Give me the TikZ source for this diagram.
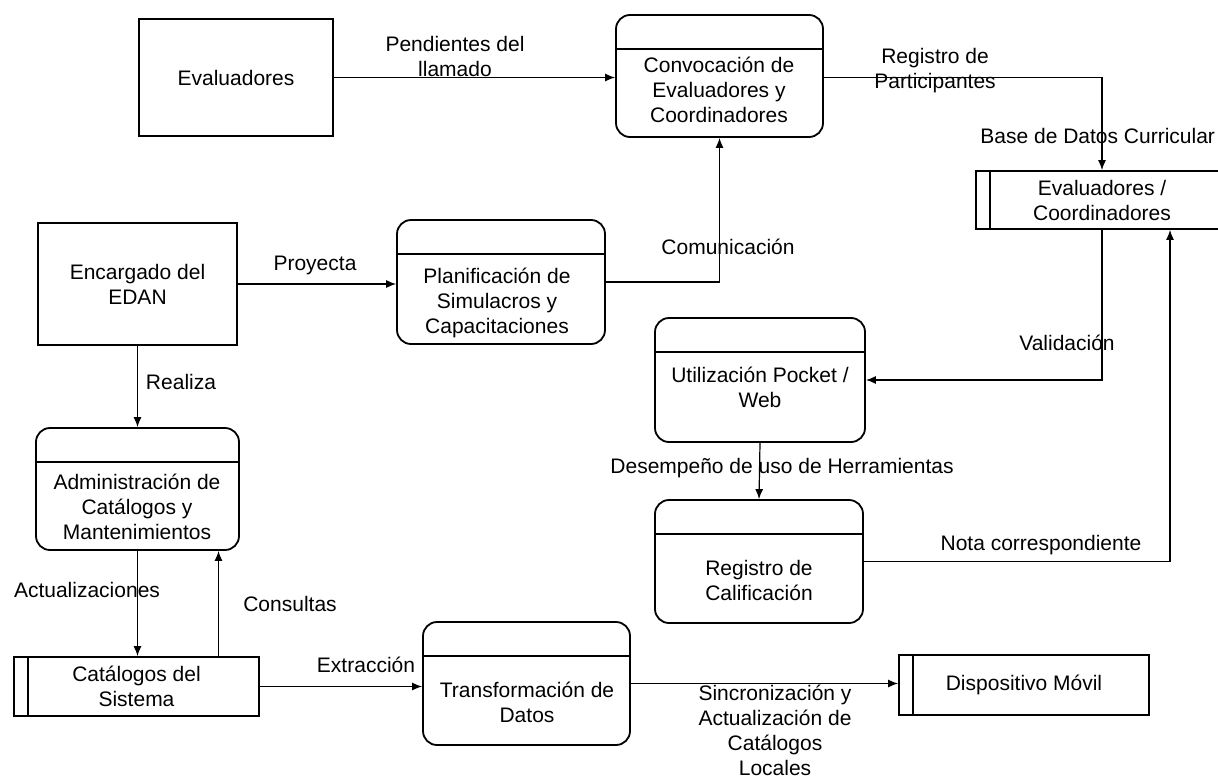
\documentclass[tikz,border=0pt]{standalone}
\usepackage{fontspec}
\setmainfont{Liberation Sans}
\usetikzlibrary{arrows.meta}

\tikzset{
  every node/.style={font=\fontsize{10.5}{12.5}\selectfont},
  entity/.style={draw,line width=0.9pt,align=center},
  proc/.style={draw,line width=0.9pt,rounded corners=7pt,
    minimum width=104pt,minimum height=61.5pt},
  store/.style={draw,line width=0.9pt,minimum height=29.5pt,align=center},
  ptext/.style={align=center,inner sep=0pt},
  lbl/.style={align=center,inner sep=0pt},
  flow/.style={line width=0.6pt,-{Latex[length=5pt,width=4pt]}},
}

\begin{document}
\begin{tikzpicture}[x=0.5pt,y=-0.5pt]
  \useasboundingbox (0,0) rectangle (1218,781);

  % entidades externas
  \node[entity,minimum width=97pt,minimum height=58.5pt] (evaluadores) at (236,77.5) {Evaluadores};
  \node[entity,minimum width=99.5pt,minimum height=61pt] (encargado) at (137.5,284) {Encargado del\\EDAN};

  % procesos
  \node[proc,minimum width=103.5pt,minimum height=61pt] (convoca) at (719.5,76) {};
  \node[proc,minimum height=62pt] (planif) at (501,282) {};
  \node[proc,minimum width=105pt,minimum height=62pt] (utiliz) at (760,380) {};
  \node[proc] (registro) at (759,561.5) {};
  \node[proc,minimum width=101.5pt,minimum height=61pt] (admin) at (137.5,489) {};
  \node[proc,minimum width=103.5pt] (transform) at (526.5,683.5) {};
  \foreach \p in {convoca,planif,utiliz,registro,admin,transform}
    \draw[line width=0.9pt] ([yshift=-17.5pt]\p.north west) -- ([yshift=-17.5pt]\p.north east);

  \node[ptext] (convocaT) at (719,90) {Convocación de\\Evaluadores y\\Coordinadores};
  \node[ptext] (planifT) at (497,303) {Planificación de\\Simulacros y\\Capacitaciones};
  \node[ptext] (utilizT) at (760,387) {Utilización Pocket /\\Web};
  \node[ptext] (registroT) at (759,580) {Registro de\\Calificación};
  \node[ptext] (adminT) at (137,507) {Administración de\\Catálogos y\\Mantenimientos};
  \node[ptext] (transformT) at (527,702) {Transformación de\\Datos};

  % almacenes
  \node[store,minimum width=126pt,minimum height=29pt] (storeEC) at (1102,200) {Evaluadores /\\Coordinadores};
  \node[store,minimum width=122.5pt] (catalogos) at (136.5,686.5) {Catálogos del\\Sistema};
  \node[store,minimum width=125pt,minimum height=30pt] (disp) at (1024,685) {Dispositivo Móvil};
  \foreach \s in {storeEC,catalogos,disp}
    \draw[line width=0.9pt] ([xshift=7.5pt]\s.north west) -- ([xshift=7.5pt]\s.south west);

  % flujos
  \draw[flow] (evaluadores.east) -- (evaluadores.east -| convoca.west);
  \node[lbl] (lPend) at (455,56) {Pendientes del\\llamado};

  \draw[flow] (convoca.east |- evaluadores.east) -| (storeEC.north);
  \node[lbl] (lRegPart) at (935,70.5) {Registro de\\Participantes};
  \node[lbl,anchor=west] (lBase) at (980,136) {Base de Datos Curricular};

  \draw[flow] (planif.east) -| (convoca.south);
  \node[lbl] (lCom) at (728,247) {Comunicación};

  \draw[flow] (encargado.east) -- (encargado.east -| planif.west);
  \node[lbl] (lProy) at (315,265) {Proyecta};

  \draw[flow] (encargado.south) -- (admin.north);
  \node[lbl] (lReal) at (181,382) {Realiza};

  \draw[flow] (storeEC.south) |- (utiliz.east);
  \node[lbl] (lVal) at (1067,343) {Validación};

  \draw[flow] (utiliz.south) -- (registro.north);
  \node[lbl] (lDes) at (782,468) {Desempeño de uso de Herramientas};

  \draw[flow] (registro.east) -| ([xshift=34pt]storeEC.south);
  \node[lbl] (lNota) at (1041,545) {Nota correspondiente};

  \draw[flow] (admin.south) -- (admin.south |- catalogos.north);
  \node[lbl] (lAct) at (87,590) {Actualizaciones};

  \draw[flow] ([xshift=41pt]catalogos.north) -- ([xshift=41pt]catalogos.north |- admin.south);
  \node[lbl] (lCons) at (290,604) {Consultas};

  \draw[flow] (catalogos.east) -- (catalogos.east -| transform.west);
  \node[lbl] (lExt) at (366,665) {Extracción};

  \draw[flow] (transform.east) -- (transform.east -| disp.west);
  \node[lbl] (lSinc) at (775,730) {Sincronización y\\Actualización de\\Catálogos\\Locales};
\end{tikzpicture}
\end{document}
